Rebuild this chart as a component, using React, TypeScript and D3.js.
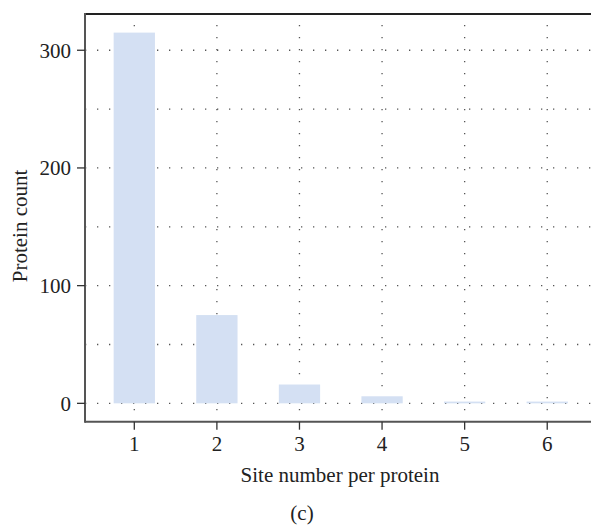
import React from 'react';
import { scaleLinear } from 'd3';

const sites = [1, 2, 3, 4, 5, 6];
const counts = [315, 75, 16, 6, 1.5, 1.5];
const yTicks = [0, 100, 200, 300];
const yGrid = [0, 50, 100, 150, 200, 250, 300];

const width = 591;
const height = 528;
const left = 85;
const top = 14;
const bottom = 421.7;

const font = "'Liberation Serif', 'Times New Roman', serif";
const fs = 21;

function App() {
	const xScale = scaleLinear().domain([0.403, 6.53]).range([left, width]);
	const yScale = scaleLinear().domain([-15.6, 330.8]).range([bottom, top]);
	const barW = xScale(1.5) - xScale(1);

	return (
		<svg
			width={width}
			height={height}
			style={{ position: 'absolute', left: 0, top: 0, background: '#fff' }}
		>
			{/* grid */}
			{yGrid.map((v) => (
				<line
					key={'h' + v}
					x1={left + 1}
					x2={width}
					y1={yScale(v)}
					y2={yScale(v)}
					stroke="#555"
					strokeWidth={1.3}
					strokeDasharray="1.3 10.7"
					strokeDashoffset={-11}
				/>
			))}
			{sites.map((s) => (
				<line
					key={'v' + s}
					x1={xScale(s)}
					x2={xScale(s)}
					y1={top + 1}
					y2={bottom}
					stroke="#555"
					strokeWidth={1.3}
					strokeDasharray="1.3 10.7"
					strokeDashoffset={-10}
				/>
			))}

			{/* bars */}
			{sites.map((s, i) => (
				<rect
					key={s}
					x={xScale(s) - barW / 2}
					y={yScale(counts[i])}
					width={barW}
					height={yScale(0) - yScale(counts[i])}
					fill="#d4e0f3"
				/>
			))}

			{/* frame */}
			<line x1={left} x2={width} y1={top} y2={top} stroke="#222" strokeWidth={2} />
			<line x1={left} x2={left} y1={top - 1} y2={bottom + 1} stroke="#555" strokeWidth={2} />
			<line x1={left} x2={width} y1={bottom} y2={bottom} stroke="#555" strokeWidth={2} />

			{/* y ticks */}
			{yTicks.map((v) => (
				<g key={'yt' + v} transform={`translate(0, ${yScale(v)})`}>
					<line x1={left - 8} x2={left} stroke="#333" strokeWidth={1.3} />
					<text
						x={71}
						dy="0.35em"
						textAnchor="end"
						fontFamily={font}
						fontSize={fs}
						fill="#222"
					>
						{v}
					</text>
				</g>
			))}

			{/* x ticks */}
			{sites.map((s) => (
				<g key={'xt' + s} transform={`translate(${xScale(s)}, 0)`}>
					<line y1={bottom} y2={bottom + 8} stroke="#333" strokeWidth={1.3} />
					<text
						y={451}
						textAnchor="middle"
						fontFamily={font}
						fontSize={fs}
						fill="#222"
					>
						{s}
					</text>
				</g>
			))}

			<text
				x={340}
				y={482}
				textAnchor="middle"
				fontFamily={font}
				fontSize={fs}
				fill="#222"
			>
				Site number per protein
			</text>
			<text
				transform="translate(27, 226) rotate(-90)"
				textAnchor="middle"
				fontFamily={font}
				fontSize={fs}
				fill="#222"
			>
				Protein count
			</text>
			<text
				x={302}
				y={520}
				textAnchor="middle"
				fontFamily={font}
				fontSize={fs}
				fill="#222"
			>
				(c)
			</text>
		</svg>
	);
}

export default App;
